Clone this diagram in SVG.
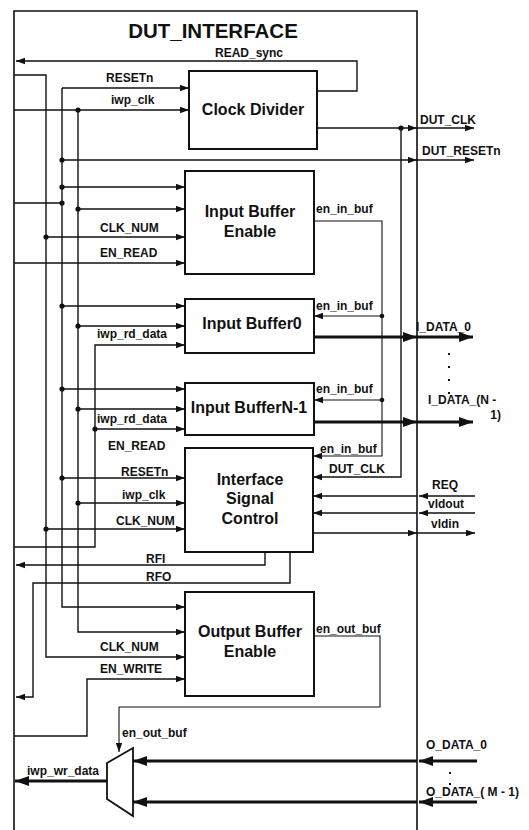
<svg xmlns="http://www.w3.org/2000/svg" width="529" height="830" viewBox="0 0 529 830">
<style>
.bg{fill:#fff}
.frame{fill:none;stroke:#111;stroke-width:1.6}
.box{fill:#fff;stroke:#111;stroke-width:2}
.w{fill:none;stroke:#111;stroke-width:1.4}
.t{fill:none;stroke:#111;stroke-width:3.2}
.dot{fill:#111}
.lbl{font-family:"Liberation Sans",Arial,sans-serif;font-weight:bold;font-size:12px;fill:#111}
.bt{font-family:"Liberation Sans",Arial,sans-serif;font-weight:bold;font-size:16px;fill:#111;text-anchor:middle}
.title{font-family:"Liberation Sans",Arial,sans-serif;font-weight:bold;font-size:20.5px;fill:#111;text-anchor:middle}
</style>
<defs>
<marker id="a" markerWidth="10" markerHeight="8" refX="9" refY="3.5" orient="auto" markerUnits="userSpaceOnUse"><path d="M0,0.3 L9,3.5 L0,6.7 z" fill="#111"/></marker>
<marker id="b" markerWidth="16" markerHeight="12" refX="14" refY="5" orient="auto" markerUnits="userSpaceOnUse"><path d="M0,0 L14,5 L0,10 z" fill="#111"/></marker>
</defs>
<rect class="bg" x="0" y="0" width="529" height="830"/>
<path class="frame" d="M14,835 V11 H417 V835"/>
<text class="title" x="213" y="38">DUT_INTERFACE</text>

<g id="clock_divider"><rect class="box" x="189" y="71" width="128" height="78"/><text class="bt" x="253" y="115">Clock Divider</text></g>
<g id="input_buffer_enable"><rect class="box" x="185" y="171" width="129" height="103"/><text class="bt" x="250" y="217">Input Buffer</text><text class="bt" x="250" y="237">Enable</text></g>
<g id="input_buffer0"><rect class="box" x="185" y="299" width="129" height="54"/><text class="bt" x="252" y="329">Input Buffer0</text></g>
<g id="input_bufferN1"><rect class="box" x="185" y="383" width="129" height="52"/><text class="bt" x="249" y="413">Input BufferN-1</text></g>
<g id="interface_signal_control"><rect class="box" x="185" y="448" width="128" height="104"/><text class="bt" x="250" y="485">Interface</text><text class="bt" x="250" y="504">Signal</text><text class="bt" x="250" y="524">Control</text></g>
<g id="output_buffer_enable"><rect class="box" x="185" y="592" width="129" height="104"/><text class="bt" x="250" y="637">Output Buffer</text><text class="bt" x="250" y="657">Enable</text></g>
<g id="mux"><polygon class="box" points="107,763 133,748 133,816 107,799" style="stroke-width:1.8"/></g>

<g id="connectors">
<path class="w" d="M317,91 H357 V61 H16" marker-end="url(#a)"/>
<path class="w" d="M62,88 H189" marker-end="url(#a)"/>
<path class="w" d="M62,88 V607 H185" marker-end="url(#a)"/>
<path class="w" d="M14,110 H189" marker-end="url(#a)"/>
<path class="w" d="M78,110 V632 H185" marker-end="url(#a)"/>
<path class="w" d="M14,75 H46 V657 H185" marker-end="url(#a)"/>
<path class="w" d="M317,128 H417" marker-end="url(#a)"/>
<path class="w" d="M417,128 H474" marker-end="url(#a)"/>
<path class="w" d="M401,128 V477 H313" marker-end="url(#a)"/>
<path class="w" d="M62,160 H417" marker-end="url(#a)"/>
<path class="w" d="M417,160 H474" marker-end="url(#a)"/>
<path class="w" d="M62,187 H185" marker-end="url(#a)"/>
<path class="w" d="M14,203 H62"/>
<path class="w" d="M78,209 H185" marker-end="url(#a)"/>
<path class="w" d="M46,237 H185" marker-end="url(#a)"/>
<path class="w" d="M14,263 H185" marker-end="url(#a)"/>
<path class="w" d="M62,306 H185" marker-end="url(#a)"/>
<path class="w" d="M78,326 H185" marker-end="url(#a)"/>
<path class="w" d="M14,547 H95 V345 H185" marker-end="url(#a)"/>
<path class="w" d="M62,389 H185" marker-end="url(#a)"/>
<path class="w" d="M78,409 H185" marker-end="url(#a)"/>
<path class="w" d="M95,429 H185" marker-end="url(#a)"/>
<path class="w" d="M62,478 H185" marker-end="url(#a)"/>
<path class="w" d="M78,503 H185" marker-end="url(#a)"/>
<path class="w" d="M46,529 H185" marker-end="url(#a)"/>
<path class="w" d="M314,221 H382 V456 H313" marker-end="url(#a)" style="stroke-width:1.1"/>
<path class="w" d="M382,316 H314" marker-end="url(#a)" style="stroke-width:1.1"/>
<path class="w" d="M382,400 H314" marker-end="url(#a)" style="stroke-width:1.1"/>
<path class="t" d="M314,337 H417" marker-end="url(#b)"/>
<path class="t" d="M417,337 H473" marker-end="url(#b)"/>
<path class="t" d="M314,422 H417" marker-end="url(#b)"/>
<path class="t" d="M417,422 H473" marker-end="url(#b)"/>
<path class="w" d="M475,496 H419" marker-end="url(#a)"/>
<path class="w" d="M417,496 H313" marker-end="url(#a)"/>
<path class="w" d="M475,513 H419" marker-end="url(#a)"/>
<path class="w" d="M417,513 H313" marker-end="url(#a)"/>
<path class="w" d="M313,533 H417" marker-end="url(#a)"/>
<path class="w" d="M417,533 H475" marker-end="url(#a)"/>
<path class="w" d="M265,552 V565 H16" marker-end="url(#a)"/>
<path class="w" d="M290,552 V583 H33 V697 H16" marker-end="url(#a)"/>
<path class="w" d="M14,736 H87 V679 H185" marker-end="url(#a)"/>
<path class="w" d="M314,636 H380 V707 H119 V752" marker-end="url(#a)" style="stroke-width:1.1"/>
<path class="t" d="M107,781 H15" marker-end="url(#b)"/>
<path class="t" d="M477,761 H419" marker-end="url(#b)"/>
<path class="t" d="M417,761 H133" marker-end="url(#b)"/>
<path class="t" d="M477,802 H419" marker-end="url(#b)"/>
<path class="t" d="M417,802 H133" marker-end="url(#b)"/>
<circle class="dot" cx="78" cy="110" r="2.6"/>
<circle class="dot" cx="401" cy="128" r="2.6"/>
<circle class="dot" cx="62" cy="160" r="2.6"/>
<circle class="dot" cx="62" cy="187" r="2.6"/>
<circle class="dot" cx="62" cy="203" r="2.6"/>
<circle class="dot" cx="78" cy="209" r="2.6"/>
<circle class="dot" cx="46" cy="237" r="2.6"/>
<circle class="dot" cx="62" cy="306" r="2.6"/>
<circle class="dot" cx="78" cy="326" r="2.6"/>
<circle class="dot" cx="62" cy="389" r="2.6"/>
<circle class="dot" cx="78" cy="409" r="2.6"/>
<circle class="dot" cx="95" cy="429" r="2.6"/>
<circle class="dot" cx="62" cy="478" r="2.6"/>
<circle class="dot" cx="78" cy="503" r="2.6"/>
<circle class="dot" cx="46" cy="529" r="2.6"/>
<circle class="dot" cx="382" cy="316" r="2.3"/>
<circle class="dot" cx="382" cy="400" r="2.3"/>
<rect class="dot" x="448" y="353" width="2" height="2"/>
<rect class="dot" x="448" y="366" width="2" height="2"/>
<rect class="dot" x="448" y="379" width="2" height="2"/>
<rect class="dot" x="448" y="392" width="2" height="2"/>
<rect class="dot" x="449" y="772" width="2" height="2"/>
<rect class="dot" x="449" y="783" width="2" height="2"/>
</g>

<g id="labels">
<text class="lbl" x="215" y="57">READ_sync</text>
<text class="lbl" x="106" y="82">RESETn</text>
<text class="lbl" x="111" y="104">iwp_clk</text>
<text class="lbl" x="420" y="124">DUT_CLK</text>
<text class="lbl" x="422" y="155">DUT_RESETn</text>
<text class="lbl" x="316" y="213">en_in_buf</text>
<text class="lbl" x="100" y="232">CLK_NUM</text>
<text class="lbl" x="100" y="257">EN_READ</text>
<text class="lbl" x="316" y="310">en_in_buf</text>
<text class="lbl" x="416" y="331">I_DATA_0</text>
<text class="lbl" x="97" y="338">iwp_rd_data</text>
<text class="lbl" x="316" y="393">en_in_buf</text>
<text class="lbl" x="428" y="404">I_DATA_(N -</text>
<text class="lbl" x="501" y="419" text-anchor="end">1)</text>
<text class="lbl" x="97" y="423">iwp_rd_data</text>
<text class="lbl" x="108" y="450">EN_READ</text>
<text class="lbl" x="320" y="453">en_in_buf</text>
<text class="lbl" x="329" y="473">DUT_CLK</text>
<text class="lbl" x="121" y="476">RESETn</text>
<text class="lbl" x="432" y="489">REQ</text>
<text class="lbl" x="122" y="499">iwp_clk</text>
<text class="lbl" x="428" y="508">vldout</text>
<text class="lbl" x="116" y="525">CLK_NUM</text>
<text class="lbl" x="431" y="528">vldin</text>
<text class="lbl" x="146" y="563">RFI</text>
<text class="lbl" x="146" y="581">RFO</text>
<text class="lbl" x="316" y="633">en_out_buf</text>
<text class="lbl" x="100" y="651">CLK_NUM</text>
<text class="lbl" x="100" y="673">EN_WRITE</text>
<text class="lbl" x="122" y="737">en_out_buf</text>
<text class="lbl" x="426" y="749">O_DATA_0</text>
<text class="lbl" x="27" y="775">iwp_wr_data</text>
<text class="lbl" x="426" y="796">O_DATA_( M - 1)</text>
</g>
</svg>
